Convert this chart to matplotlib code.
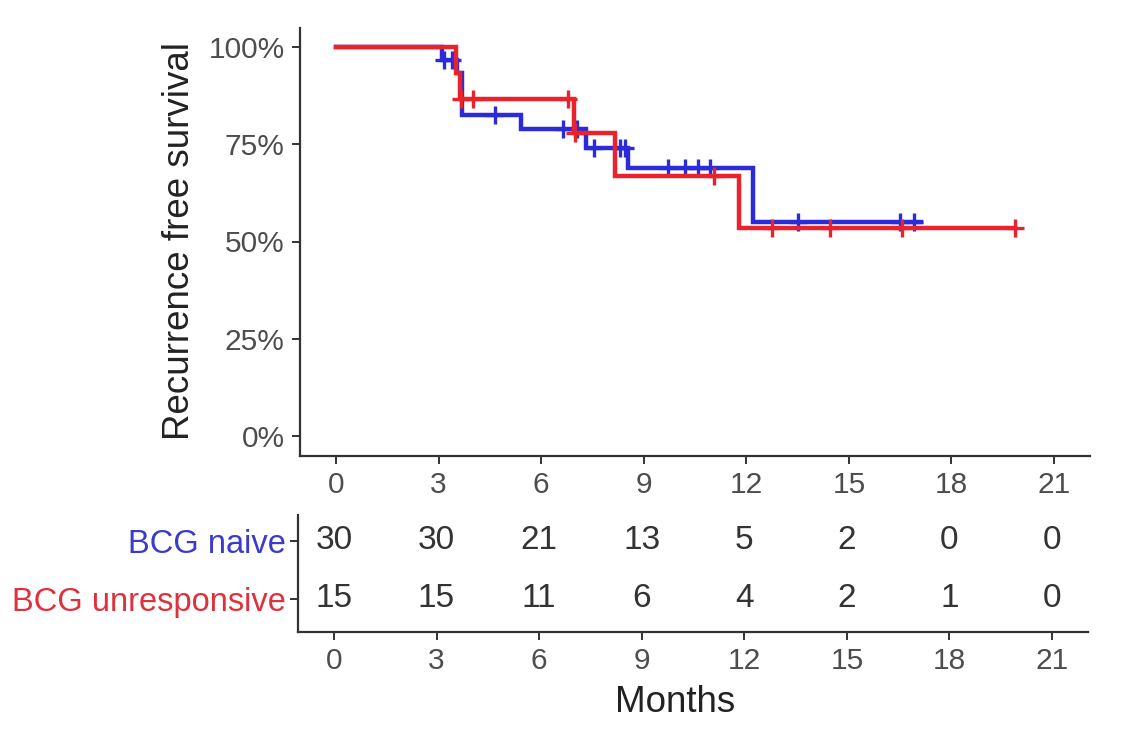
import matplotlib
matplotlib.use("Agg")
import matplotlib.pyplot as plt
import numpy as np

plt.rcParams['font.family'] = ['Liberation Sans', 'DejaVu Sans']

# ---- data ----
groups = ["BCG naive", "BCG unresponsive"]
colors = ["#2B2BD9", "#E8232B"]
label_colors = ["#3A3AD0", "#E0303C"]

naive_times = [0, 3.1, 3.55, 3.7, 5.4, 7.3, 8.55, 12.2]
naive_surv = [100, 96.7, 93.3, 82.6, 78.9, 74.0, 68.9, 55.1]
naive_end = 17.1
naive_censor = [3.15, 3.4, 4.65, 6.65, 7.05, 7.55, 8.3, 8.45, 9.7, 10.2, 10.6, 10.95, 13.5, 16.5, 16.9]

unresp_times = [0, 3.5, 3.62, 6.95, 8.15, 11.8]
unresp_surv = [100, 93.3, 86.7, 78.0, 66.9, 53.5]
unresp_end = 19.85
unresp_censor = [3.65, 4.0, 6.8, 7.0, 11.05, 12.75, 14.45, 16.55, 19.85]

risk_times = [0, 3, 6, 9, 12, 15, 18, 21]
naive_risk = [30, 30, 21, 13, 5, 2, 0, 0]
unresp_risk = [15, 15, 11, 6, 4, 2, 1, 0]

x_ticks = [0, 3, 6, 9, 12, 15, 18, 21]
y_ticks = [0, 25, 50, 75, 100]
y_ticklabels = ["0%", "25%", "50%", "75%", "100%"]

# ---- figure ----
W, H = 1124, 740
fig = plt.figure(figsize=(W / 100, H / 100), dpi=100)
axcol = "#333333"
txtcol = "#4D4D4D"

def fx(px):
    return px / W

def fy(py):
    return 1 - py / H

# main KM axes
ax = fig.add_axes([fx(300), fy(455.5), fx(1090 - 300), (455.5 - 27.5) / H])
series = [
    (naive_times, naive_surv, naive_end, naive_censor, colors[0]),
    (unresp_times, unresp_surv, unresp_end, unresp_censor, colors[1]),
]
for times, surv, end, cens, col in series:
    t = np.array(list(times) + [end])
    s = np.array(list(surv) + [surv[-1]])
    ax.step(t, s, where='post', color=col, lw=3.2, solid_joinstyle='miter')
    idx = np.searchsorted(np.array(times), np.array(cens), side='right') - 1
    cy = np.array(surv)[idx]
    ax.plot(cens, cy, linestyle='none', marker='+', markersize=13,
            markeredgewidth=2.4, color=col)

ax.set_xlim(-1.05, 22.05)
ax.set_ylim(-5, 105)
ax.set_xticks(x_ticks)
ax.set_yticks(y_ticks)
ax.set_yticklabels(y_ticklabels)
for sp in ['top', 'right']:
    ax.spines[sp].set_visible(False)
for sp in ['left', 'bottom']:
    ax.spines[sp].set_color(axcol)
    ax.spines[sp].set_linewidth(1.6)
ax.tick_params(axis='both', colors=axcol, labelcolor=txtcol, labelsize=21.5,
               length=6, width=1.4, pad=5)
ax.set_ylabel("Recurrence free survival", fontsize=26.5, color="#222222", labelpad=8)

# risk table axes
tax = fig.add_axes([fx(298), fy(632), fx(1088 - 298), (632 - 515) / H])
tax.set_xlim(-1.05, 22.05)
tax.set_ylim(0.42, 2.45)
for x, n in zip(risk_times, naive_risk):
    tax.text(x, 2, str(n), ha='center', va='center', fontsize=24, color="#333333")
for x, n in zip(risk_times, unresp_risk):
    tax.text(x, 1, str(n), ha='center', va='center', fontsize=24, color="#333333")
tax.set_xticks(x_ticks)
tax.set_yticks([2, 1])
tax.set_yticklabels(groups)
for sp in ['top', 'right']:
    tax.spines[sp].set_visible(False)
for sp in ['left', 'bottom']:
    tax.spines[sp].set_color(axcol)
    tax.spines[sp].set_linewidth(1.6)
tax.tick_params(axis='x', colors=axcol, labelcolor=txtcol, labelsize=21.5,
                length=6, width=1.4, pad=5)
tax.tick_params(axis='y', colors=axcol, labelsize=23.5, length=6, width=1.4, pad=3)
for lab, col in zip(tax.get_yticklabels(), label_colors):
    lab.set_color(col)
tax.set_xlabel("Months", fontsize=26.5, color="#222222")
tax.xaxis.label.set_va('center')
tax.xaxis.set_label_coords((675 - 298) / 790, (632 - 703) / 117)

fig.savefig("out.png", dpi=100, facecolor="white")
